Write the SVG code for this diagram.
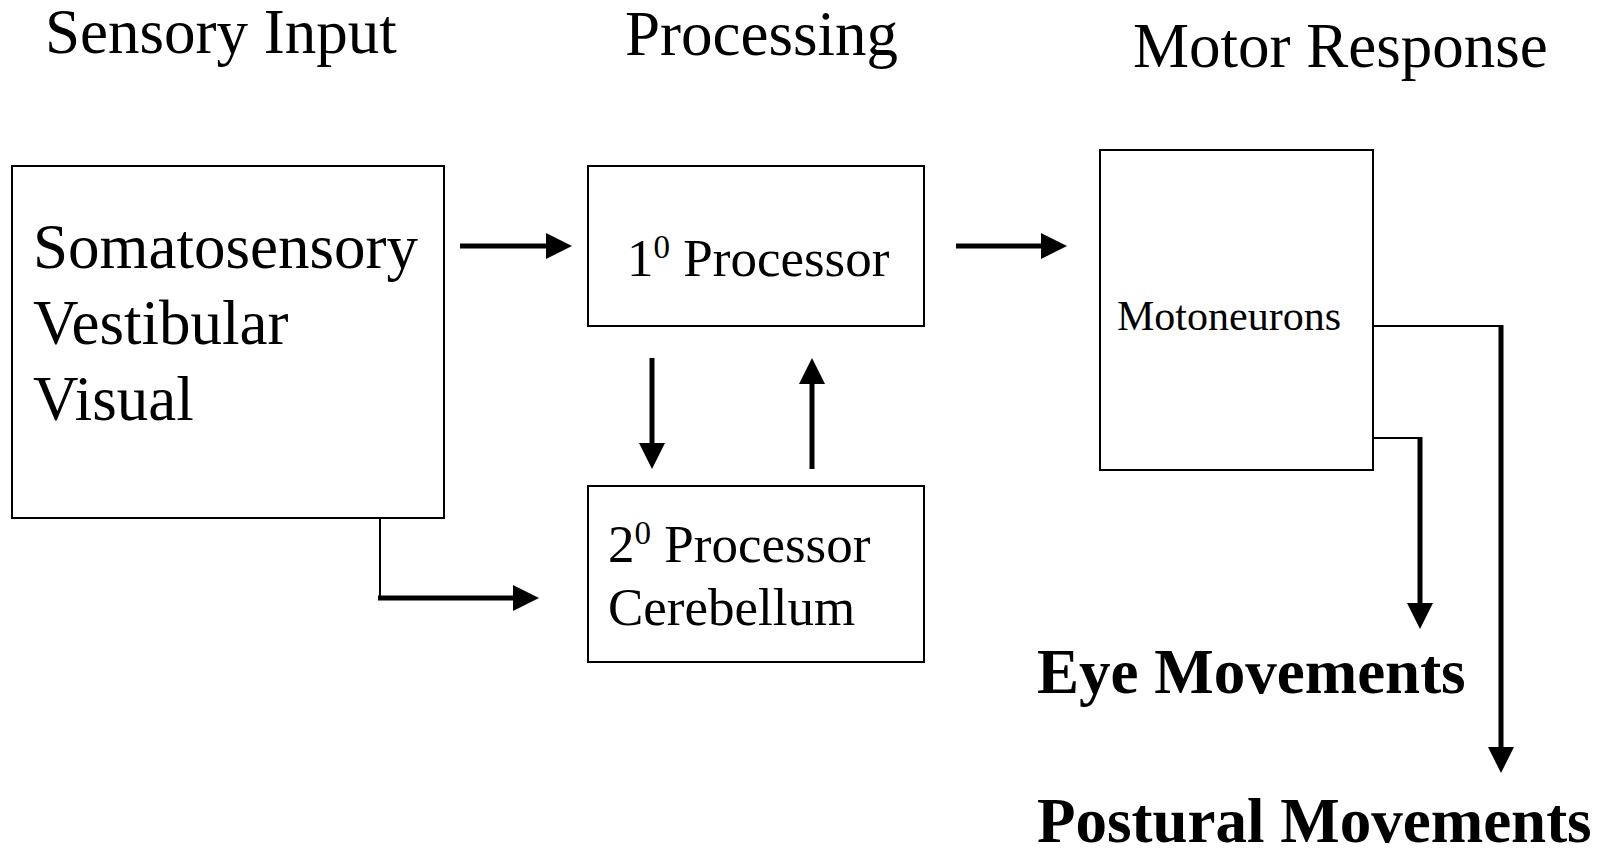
<svg xmlns="http://www.w3.org/2000/svg" width="1616" height="851" viewBox="0 0 1616 851">
<style>
.box{fill:#fff;stroke:#000;stroke-width:2}
.t{font-family:"Liberation Serif","Times New Roman",serif;fill:#000}
.h{font-size:63px}
.b{font-size:63px;font-weight:bold}
.thick{stroke:#000;stroke-width:5;fill:none}
.thin{stroke:#000;stroke-width:2;fill:none}
</style>
<defs>
<marker id="ah" markerUnits="userSpaceOnUse" markerWidth="26" markerHeight="26" refX="0" refY="13" orient="auto">
<path d="M0,0 L26,13 L0,26 z" fill="#000"/>
</marker>
</defs>
<rect width="1616" height="851" fill="#fff"/>
<g id="headers">
<text class="t h" x="45" y="53">Sensory Input</text>
<text class="t h" x="625" y="55">Processing</text>
<text class="t h" x="1133" y="67">Motor Response</text>
</g>
<g id="sensory">
<rect class="box" x="12" y="166" width="432" height="352"/>
<text class="t" font-size="63" x="33" y="268">Somatosensory</text>
<text class="t" font-size="63" x="33" y="344">Vestibular</text>
<text class="t" font-size="63" x="33" y="420">Visual</text>
</g>
<g id="proc1">
<rect class="box" x="588" y="166" width="336" height="160"/>
<text class="t" font-size="53" x="627" y="276">1<tspan font-size="33" dy="-18">0</tspan><tspan dy="18"> Processor</tspan></text>
</g>
<g id="proc2">
<rect class="box" x="588" y="486" width="336" height="176"/>
<text class="t" font-size="53" x="608" y="562">2<tspan font-size="33" dy="-18">0</tspan><tspan dy="18"> Processor</tspan></text>
<text class="t" font-size="53" x="608" y="625">Cerebellum</text>
</g>
<g id="motoneurons">
<rect class="box" x="1100" y="150" width="273" height="320"/>
<text class="t" font-size="42" x="1117" y="330">Motoneurons</text>
</g>
<g id="eye">
<text class="t b" x="1037" y="693">Eye Movements</text>
</g>
<g id="postural">
<text class="t b" x="1037" y="842">Postural Movements</text>
</g>
<g id="connectors">
<line class="thick" x1="460" y1="246" x2="546" y2="246" marker-end="url(#ah)"/>
<line class="thick" x1="956" y1="246" x2="1041" y2="246" marker-end="url(#ah)"/>
<line class="thick" x1="652" y1="358" x2="652" y2="443" marker-end="url(#ah)"/>
<line class="thick" x1="812" y1="469" x2="812" y2="384" marker-end="url(#ah)"/>
<line class="thin" x1="380" y1="518" x2="380" y2="598"/>
<line class="thick" x1="378" y1="598" x2="513" y2="598" marker-end="url(#ah)"/>
<line class="thin" x1="1373" y1="326" x2="1501" y2="326"/>
<line class="thick" x1="1501" y1="325" x2="1501" y2="747" marker-end="url(#ah)"/>
<line class="thin" x1="1373" y1="438" x2="1420" y2="438"/>
<line class="thick" x1="1420" y1="437" x2="1420" y2="603" marker-end="url(#ah)"/>
</g>
</svg>
